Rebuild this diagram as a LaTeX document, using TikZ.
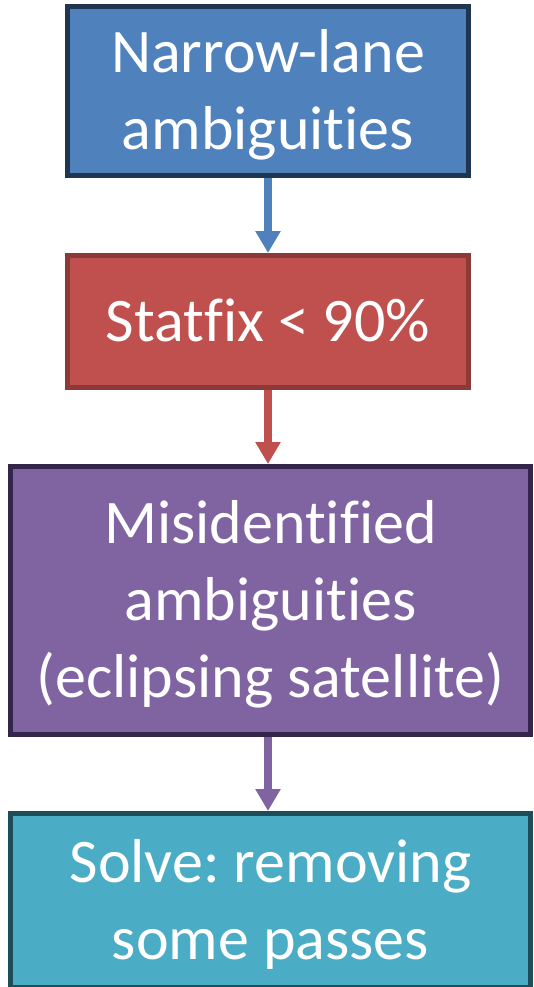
\documentclass[tikz,border=0pt]{standalone}
\usepackage{fontspec}
\setmainfont{Carlito}[Ligatures=NoCommon]
\usetikzlibrary{arrows.meta}

\definecolor{laneblue}{HTML}{4F81BD}
\definecolor{laneblueline}{HTML}{1F3550}
\definecolor{fixred}{HTML}{C0504D}
\definecolor{fixredline}{HTML}{8C3A38}
\definecolor{misviolet}{HTML}{8064A2}
\definecolor{misvioletline}{HTML}{33264A}
\definecolor{solvecyan}{HTML}{4BACC6}
\definecolor{solvecyanline}{HTML}{1F4D57}

% one text line of a box
\newcommand{\fl}{\rule[-18.5pt]{0pt}{77pt}}

\begin{document}
\begin{tikzpicture}[x=1pt,y=-1pt,
  flowbox/.style={draw, line width=5pt, text=white, align=center, inner sep=0pt,
    font=\fontsize{62}{77}\selectfont\frenchspacing},
  flowarrow/.style={line width=8pt, -{Triangle[width=24pt,length=22pt]}}]
\useasboundingbox (0,0) rectangle (533,987);

% Narrow-lane
\node[flowbox, fill=laneblue, draw=laneblueline, minimum width=401pt, minimum height=169pt]
  (narrow) at (268,91) {\fl Narrow-lane\\\fl ambiguities};

% Statfix
\node[flowbox, fill=fixred, draw=fixredline, minimum width=401pt, minimum height=132pt]
  (statfix) at (268,321.5) {\fl Statfix < 90\%};

% Misidentified
\node[flowbox, fill=misviolet, draw=misvioletline, minimum width=520pt, minimum height=268pt]
  (misid) at (270.5,600.5) {\fl Misidentified\\\fl ambiguities\\\fl (eclipsing satellite)};

% Solve
\node[flowbox, fill=solvecyan, draw=solvecyanline, minimum width=520pt, minimum height=174pt]
  (solve) at (270.5,900.5) {\fl Solve: removing\\\fl some passes};

% Arrows
\draw[flowarrow, laneblue] (narrow.south) -- (statfix.north);
\draw[flowarrow, fixred] (statfix.south) -- (misid.north -| statfix.south);
\draw[flowarrow, misviolet] (misid.south -| statfix.south) -- (solve.north -| statfix.south);
\end{tikzpicture}
\end{document}
